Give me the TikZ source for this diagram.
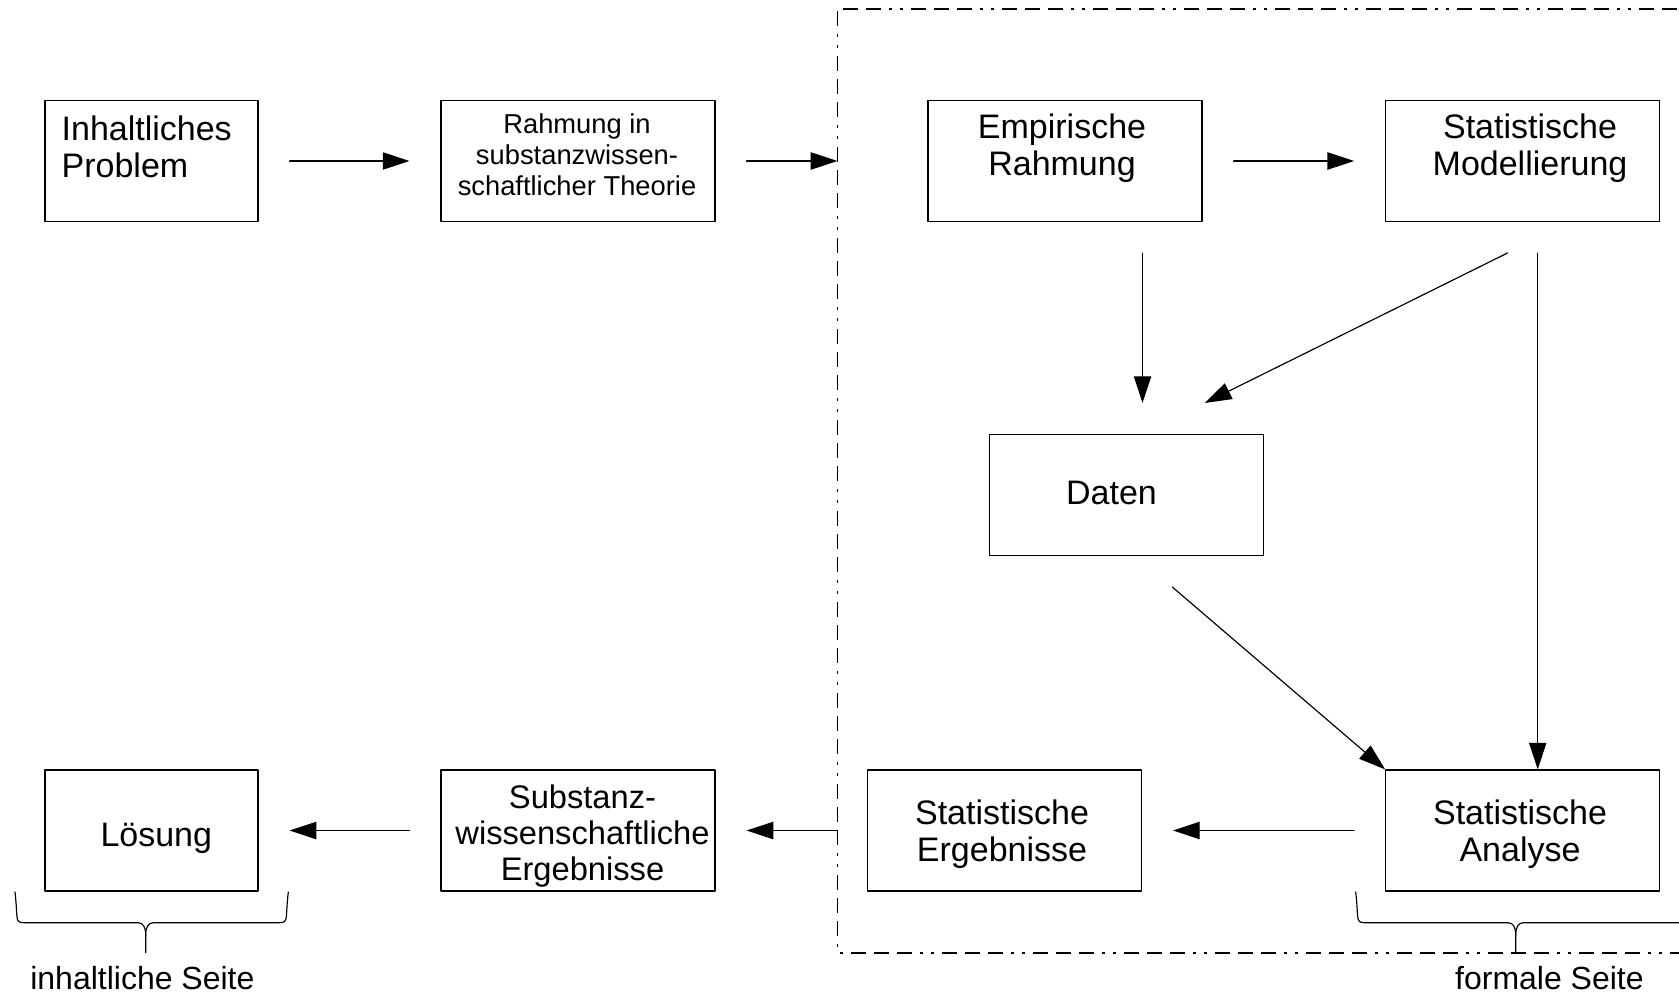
\documentclass[tikz,border=0pt]{standalone}
\usepackage{fontspec}
\setmainfont{Liberation Sans}
\usetikzlibrary{arrows.meta}

\tikzset{
  box/.style={draw, line width=0.35pt, minimum width=82.2pt, minimum height=36.3pt, inner sep=0pt},
  smallbox/.style={box, minimum width=63.9pt},
  txt/.style={inner sep=0pt, align=center, font=\fontsize{10.2}{11.2}\selectfont},
  link/.style={->, line width=0.35pt, shorten <=9.3pt, shorten >=9.3pt},
  sideframe/.style={line width=0.4pt, line cap=butt, dash pattern=on 4.5pt off 2.4pt on 4.5pt off 2.4pt on 4.5pt off 2.4pt on 0.9pt off 2.4pt on 0.9pt off 2.4pt},
  brace/.style={line width=0.35pt}
}

\begin{document}
\begin{tikzpicture}[line cap=round,line join=round,>={Triangle[length=8pt,width=5.2pt]},x=0.3pt,y=0.3pt]
			\useasboundingbox (0,0) rectangle (1679,995);
			\clip (0,0) rectangle (1679,995);
			\coordinate (ftop) at (837.4,986);
			\coordinate (fbot) at (837.4,42);
			\draw [sideframe] (1700,986) -- (ftop) -- (fbot) -- (1700,42);
			\node [smallbox] (problem) at (151.5,834) {};
			\node [box] (rahmen) at (578,834) {};
			\node [box] (empirie) at (1065,834) {};
			\node [box] (modell) at (1522.7,834) {};
			\node [box] (daten) at (1126.5,500) {};
			\node [smallbox] (loesung) at (151.5,164.5) {};
			\node [box] (substanz) at (578,164.5) {};
			\node [box] (ergebnis) at (1004.4,164.5) {};
			\node [box] (analyse) at (1522.7,164.5) {};
			\node [txt, align=left, anchor=west] (problem-t) at (61,848) {Inhaltliches\\Problem};
			\node [txt, font=\fontsize{8.2}{9.3}\selectfont] (rahmen-t) at (577,840.5) {Rahmung in\\substanzwissen-\\schaftlicher Theorie};
			\node [txt] (empirie-t) at (1062,847) {Empirische\\Rahmung};
			\node [txt] (modell-t) at (1530,847) {Statistische\\Modellierung};
			\node [txt] (daten-t) at (1111.5,502) {Daten};
			\node [txt] (loesung-t) at (156.3,157) {Lösung};
			\node [txt, font=\fontsize{9.8}{10.8}\selectfont] (substanz-t) at (582.5,159) {Substanz-\\wissenschaftliche\\Ergebnisse};
			\node [txt] (ergebnis-t) at (1002,161) {Statistische\\Ergebnisse};
			\node [txt] (analyse-t) at (1520,161) {Statistische\\Analyse};
			\draw [link] (problem) -- (rahmen);
			\draw [link, shorten >=0pt] (rahmen.east) -- (rahmen.east -| ftop);
			\draw [link] (empirie) -- (modell);
			\draw [link] (empirie.south -| 1142.5,0) -- (daten.north -| 1142.5,0);
			\draw [link, shorten <=20.9pt, shorten >=20.9pt] (modell.south -| 1569.9,0) -- (daten.north -| 1142.4,0);
			\draw [link, shorten >=0pt] (modell.south -| 1537.7,0) -- (analyse.north -| 1537.7,0);
			\draw [link, shorten <=14.3pt, shorten >=0pt] (daten.south -| 1136.2,0) -- (analyse.north west);
			\draw [link] (analyse) -- (ergebnis);
			\draw [link, shorten <=0pt] (substanz.east -| ftop) -- (substanz.east);
			\draw [link] (substanz) -- (loesung);
			\draw [brace] (15,103) .. controls (16.5,90) and (16.5,82) .. (17,78) .. controls (17.5,73.5) and (19,72.3) .. (24,72.3) -- (138,72.3) .. controls (143,72.3) and (145.7,68) .. (145.7,60) -- (145.7,42.3);
			\draw [brace] (288.3,103) .. controls (286.8,90) and (286.8,82) .. (286.3,78) .. controls (285.8,73.5) and (284.3,72.3) .. (279,72.3) -- (153.4,72.3) .. controls (148.4,72.3) and (145.7,68) .. (145.7,60);
			\draw [brace] (1355.7,103) .. controls (1357.2,90) and (1357.2,82) .. (1357.7,78) .. controls (1358.2,73.5) and (1359.7,72.3) .. (1364.7,72.3) -- (1508,72.3) .. controls (1513,72.3) and (1515.7,68) .. (1515.7,60) -- (1515.7,42.3);
			\draw [brace] (1700,72.3) -- (1523.4,72.3) .. controls (1518.4,72.3) and (1515.7,68) .. (1515.7,60);
			\node [txt, font=\fontsize{9.6}{11}\selectfont] (inhalt-l) at (142.4,17.4) {inhaltliche Seite};
			\node [txt, font=\fontsize{9.6}{11}\selectfont] (formal-l) at (1549.4,17.4) {formale Seite};
		\end{tikzpicture}
\end{document}
